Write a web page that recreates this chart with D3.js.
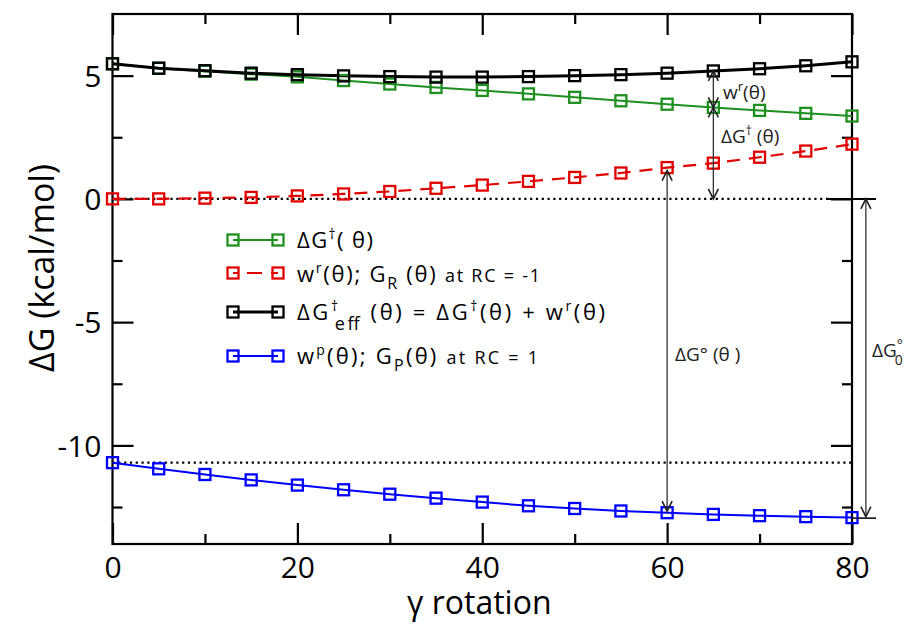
<!DOCTYPE html>
<html><head><meta charset="utf-8">
<script src="https://cdn.jsdelivr.net/npm/d3@7"></script>
<style>body{margin:0;background:#fff}svg{font-family:"Open Sans",sans-serif}</style>
</head><body>
<svg id="c" width="914" height="624"></svg>
<script>
const angles = [0,5,10,15,20,25,30,35,40,45,50,55,60,65,70,75,80];
const dGdag  = [5.48,5.30,5.18,5.06,4.95,4.80,4.66,4.52,4.40,4.26,4.12,3.98,3.84,3.71,3.59,3.47,3.36];
const wr     = [0.00,0.00,0.03,0.06,0.12,0.20,0.30,0.43,0.56,0.71,0.87,1.05,1.27,1.45,1.69,1.94,2.22];
const dGeff  = [5.48,5.30,5.20,5.10,5.04,4.99,4.96,4.94,4.94,4.96,5.00,5.04,5.10,5.19,5.28,5.40,5.56];
const wp     = [-10.70,-10.95,-11.18,-11.40,-11.61,-11.80,-11.98,-12.14,-12.30,-12.45,-12.56,-12.66,-12.73,-12.80,-12.85,-12.89,-12.93];
const xMajor = [0,20,40,60,80];
const xMinor = [10,30,50,70];
const yMajor = [-10,-5,0,5];
const yMinor = [-12.5,-7.5,-2.5,2.5];

const svg = d3.select("#c");
const L=112.5, R=852, T=14, B=544;
const x = d3.scaleLinear().domain([0,80]).range([L,R]);
const y = d3.scaleLinear().domain([-14,7.5]).range([B,T]);

// dotted reference lines
svg.append("line").attr("x1",L).attr("x2",828).attr("y1",y(0)).attr("y2",y(0))
  .attr("stroke","#000").attr("stroke-width",2.2).attr("stroke-dasharray","2.2,3.6");
svg.append("line").attr("x1",L).attr("x2",R).attr("y1",y(wp[0])).attr("y2",y(wp[0]))
  .attr("stroke","#000").attr("stroke-width",2.2).attr("stroke-dasharray","2.2,3.6");

// frame
svg.append("rect").attr("x",L).attr("y",T).attr("width",R-L).attr("height",B-T)
  .attr("fill","none").attr("stroke","#000").attr("stroke-width",2.2);

// axes with inward ticks
const fs = 30;
const fmt = d => String(d);
const axB = svg.append("g").attr("transform",`translate(0,${B})`)
  .call(d3.axisBottom(x).tickValues(xMajor).tickSizeInner(-21).tickSizeOuter(0).tickPadding(13).tickFormat(fmt));
const axBm = svg.append("g").attr("transform",`translate(0,${B})`)
  .call(d3.axisBottom(x).tickValues(xMinor).tickSizeInner(-10).tickSizeOuter(0).tickFormat(""));
const axT = svg.append("g").attr("transform",`translate(0,${T})`)
  .call(d3.axisTop(x).tickValues(xMajor).tickSizeInner(-21).tickSizeOuter(0).tickFormat(""));
const axTm = svg.append("g").attr("transform",`translate(0,${T})`)
  .call(d3.axisTop(x).tickValues(xMinor).tickSizeInner(-10).tickSizeOuter(0).tickFormat(""));
const axL = svg.append("g").attr("transform",`translate(${L},0)`)
  .call(d3.axisLeft(y).tickValues(yMajor).tickSizeInner(-21).tickSizeOuter(0).tickPadding(11).tickFormat(fmt));
const axLm = svg.append("g").attr("transform",`translate(${L},0)`)
  .call(d3.axisLeft(y).tickValues(yMinor).tickSizeInner(-10).tickSizeOuter(0).tickFormat(""));
const axR = svg.append("g").attr("transform",`translate(${R},0)`)
  .call(d3.axisRight(y).tickValues(yMajor).tickSizeInner(-21).tickSizeOuter(0).tickFormat(""));
const axRm = svg.append("g").attr("transform",`translate(${R},0)`)
  .call(d3.axisRight(y).tickValues(yMinor).tickSizeInner(-10).tickSizeOuter(0).tickFormat(""));
[axB,axBm,axT,axTm,axL,axLm,axR,axRm].forEach(g=>{
  g.select(".domain").remove();
  g.selectAll(".tick line").attr("stroke","#000").attr("stroke-width",2.2);
  g.selectAll("text").attr("font-family","Open Sans").attr("font-size",fs).attr("fill","#000");
});
axL.selectAll("text").attr("dy","0.36em");
axB.selectAll("text").attr("dy","0.71em");

// axis titles
svg.append("text").attr("x",(L+R)/2 - 3).attr("y",614).attr("text-anchor","middle")
  .attr("font-size",32).text("γ rotation");
svg.append("text").attr("transform",`translate(54,268) rotate(-90)`)
  .attr("text-anchor","middle").attr("font-size",34).text("ΔG (kcal/mol)");

// series
const series = [
  {v:dGdag, c:"#1f8f1f", w:2, dash:null},
  {v:wr,    c:"#e00000", w:2.2, dash:"13,9"},
  {v:dGeff, c:"#000000", w:3, dash:null},
  {v:wp,    c:"#0000ff", w:2, dash:null}
];
const line = d3.line().x((d,i)=>x(angles[i])).y(d=>y(d));
series.forEach(s=>{
  svg.append("path").datum(s.v).attr("d",line).attr("fill","none")
    .attr("stroke",s.c).attr("stroke-width",s.w).attr("stroke-dasharray",s.dash);
});
series.forEach(s=>{
  svg.append("g").selectAll("rect").data(s.v).join("rect")
    .attr("x",(d,i)=>x(angles[i])-5.5).attr("y",d=>y(d)-5.5)
    .attr("width",11).attr("height",11).attr("fill","none")
    .attr("stroke",s.c).attr("stroke-width",2.3);
});

// annotations (arrows)
const ac = "#333";
function arrowHead(px,py,dir){
  svg.append("path").attr("d",`M${px-5},${py-dir*10} L${px},${py} L${px+5},${py-dir*10}`)
    .attr("fill","none").attr("stroke","#222").attr("stroke-width",1.6);
}
function vArrow(xv,y1,y2){
  const px=x(xv), a=y(y1), b=y(y2);
  svg.append("line").attr("x1",px).attr("x2",px).attr("y1",a).attr("y2",b)
    .attr("stroke",ac).attr("stroke-width",1.3);
  arrowHead(px,a,-1); arrowHead(px,b,1);
}
vArrow(65, dGeff[13], dGdag[13]);
vArrow(65, dGdag[13], 0);
vArrow(60, wr[12]-0.12, wp[12]+0.06);
const xr = 81.5;
svg.append("line").attr("x1",x(80)-24).attr("x2",x(80)+24).attr("y1",y(0)).attr("y2",y(0))
  .attr("stroke","#000").attr("stroke-width",2);
svg.append("line").attr("x1",x(80)).attr("x2",x(80)+24).attr("y1",y(wp[16])+0.5).attr("y2",y(wp[16])+0.5)
  .attr("stroke","#000").attr("stroke-width",1.5);
vArrow(xr, 0, wp[16]+0.04);

// annotation labels
const lab = svg.append("g").attr("fill","#222");
let t = lab.append("text").attr("x",723).attr("y",99).attr("font-size",19);
t.append("tspan").text("w");
t.append("tspan").attr("font-size",13).attr("dy",-8).text("r");
t.append("tspan").attr("dy",8).text("(θ)");
t = lab.append("text").attr("x",721).attr("y",143).attr("font-size",19);
t.append("tspan").text("ΔG");
t.append("tspan").attr("font-size",12).attr("dy",-8).text("†");
t.append("tspan").attr("dy",8).text(" (θ)");
t = lab.append("text").attr("x",675).attr("y",361).attr("font-size",19);
t.append("tspan").text("ΔG° (θ )");
t = lab.append("text").attr("x",872).attr("y",357).attr("font-size",19);
t.append("tspan").text("ΔG");
t.append("tspan").attr("font-size",14).attr("dx",0).attr("dy",-7).text("°");
t.append("tspan").attr("font-size",14).attr("dx",-8).attr("dy",15).text("0");

// legend
const legend = [
  {c:"#1f8f1f", dash:null, w:2, y:240},
  {c:"#e00000", dash:"5,9,15,9,7", w:2.2, y:273},
  {c:"#000000", dash:null, w:3, y:312},
  {c:"#0000ff", dash:null, w:2, y:356}
];
legend.forEach(l=>{
  svg.append("line").attr("x1",233).attr("x2",278).attr("y1",l.y).attr("y2",l.y)
    .attr("stroke",l.c).attr("stroke-width",l.w).attr("stroke-dasharray",l.dash);
  [233,278].forEach(cx=>svg.append("rect").attr("x",cx-5.5).attr("y",l.y-5.5)
    .attr("width",11).attr("height",11).attr("fill","none").attr("stroke",l.c).attr("stroke-width",2.3));
});
const lg = svg.append("g").attr("fill","#000").attr("font-size",22);
t = lg.append("text").attr("x",297).attr("y",248).attr("textLength",76).attr("lengthAdjust","spacing");
t.append("tspan").text("ΔG");
t.append("tspan").attr("font-size",14).attr("dy",-9).text("†");
t.append("tspan").attr("dy",9).text("( θ)");
t = lg.append("text").attr("x",297).attr("y",282).attr("textLength",243).attr("lengthAdjust","spacing");
t.append("tspan").text("w");
t.append("tspan").attr("font-size",14).attr("dy",-9).text("r");
t.append("tspan").attr("dy",9).text("(θ); G");
t.append("tspan").attr("font-size",16).attr("dy",7).text("R");
t.append("tspan").attr("dy",-7).text(" (θ) ");
t.append("tspan").attr("font-size",18).text("at RC = -1");
t = lg.append("text").attr("x",297).attr("y",320).attr("textLength",308).attr("lengthAdjust","spacing");
t.append("tspan").text("ΔG");
t.append("tspan").attr("font-size",14).attr("dy",-9).text("†");
t.append("tspan").attr("font-size",18).attr("dx",-6).attr("dy",19).text("eff");
t.append("tspan").attr("dy",-10).text(" (θ) = ΔG");
t.append("tspan").attr("font-size",14).attr("dy",-9).text("†");
t.append("tspan").attr("dy",9).text("(θ) + w");
t.append("tspan").attr("font-size",14).attr("dy",-9).text("r");
t.append("tspan").attr("dy",9).text("(θ)");
t = lg.append("text").attr("x",297).attr("y",364).attr("textLength",241).attr("lengthAdjust","spacing");
t.append("tspan").text("w");
t.append("tspan").attr("font-size",14).attr("dy",-9).text("p");
t.append("tspan").attr("dy",9).text("(θ); G");
t.append("tspan").attr("font-size",16).attr("dy",7).text("P");
t.append("tspan").attr("dy",-7).text("(θ) ");
t.append("tspan").attr("font-size",18).text("at RC =  1");
</script>
</body></html>
